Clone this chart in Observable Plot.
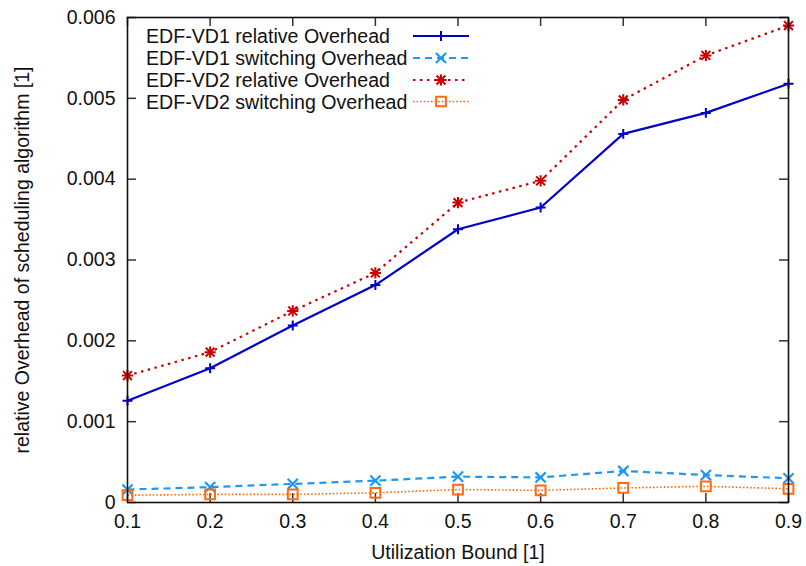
<!DOCTYPE html>
<html><head><meta charset="utf-8">
<script src="https://cdn.jsdelivr.net/npm/d3@7"></script>
<script src="https://cdn.jsdelivr.net/npm/@observablehq/plot@0.6"></script>
<style>
html,body{margin:0;padding:0;background:#fff;}
#chart{position:relative;width:806px;height:566px;}
#legend{position:absolute;left:0;top:0;pointer-events:none;}
</style></head><body><div id="chart"></div>
<script>
// ---- data ----
const utilization = [0.1, 0.2, 0.3, 0.4, 0.5, 0.6, 0.7, 0.8, 0.9];
const vd1Relative  = [0.00126, 0.00166, 0.00219, 0.00269, 0.00338, 0.00365, 0.00456, 0.00482, 0.00518];
const vd1Switching = [0.00016, 0.00019, 0.00023, 0.00027, 0.00032, 0.00031, 0.00039, 0.00034, 0.00030];
const vd2Relative  = [0.00157, 0.00186, 0.00237, 0.00284, 0.00371, 0.00398, 0.00498, 0.00553, 0.00590];
const vd2Switching = [0.00009, 0.00010, 0.00010, 0.00012, 0.00016, 0.00015, 0.00018, 0.00020, 0.00017];
const seriesNames = ["EDF-VD1 relative Overhead", "EDF-VD1 switching Overhead", "EDF-VD2 relative Overhead", "EDF-VD2 switching Overhead"];
const xTicks = [0.1, 0.2, 0.3, 0.4, 0.5, 0.6, 0.7, 0.8, 0.9];
const yTicks = [0, 0.001, 0.002, 0.003, 0.004, 0.005, 0.006];
const xLabel = "Utilization Bound [1]";
const yLabel = "relative Overhead of scheduling algorithm [1]";

// ---- styles ----
const FONT = "'Liberation Sans', Arial, Helvetica, sans-serif";
const styles = [
  {color: "#0000cc", dash: null, width: 2.2, symbols: [["plus", 3.3]], sw: 2},
  {color: "#1e98f5", dash: "7,5", width: 2.2, symbols: [["times", 4.7]], sw: 2.2},
  {color: "#cc0000", dash: "2.5,4.5", width: 2.2, symbols: [["plus", 3.7], ["times", 4.1]], sw: 2},
  {color: "#ff6a10", dash: "1.6,2", width: 1.6, symbols: [["square", 5.5]], sw: 2}
];
const values = [vd1Relative, vd1Switching, vd2Relative, vd2Switching];
const series = seriesNames.map((name, k) => ({
  name, style: styles[k],
  rows: utilization.map((u, i) => ({x: u, y: values[k][i]}))
}));

const W = 806, H = 566, mL = 127, mR = 18, mT = 17, mB = 64;
const pw = W - mL - mR, ph = H - mT - mB;
const TICK = 9;
const tickColor = "#333";

const marks = [
  Plot.axisX(xTicks, {tickSize: 0, tickPadding: 12, tickFormat: d => d.toFixed(1),
    label: xLabel, labelAnchor: "center", labelOffset: 56, labelArrow: "none"}),
  Plot.axisY(yTicks, {tickSize: 0, tickPadding: 12, tickFormat: d => d === 0 ? "0" : d.toFixed(3),
    label: yLabel, labelAnchor: "center", labelOffset: 112, labelArrow: "none"}),
  Plot.ruleY(yTicks, {y: d => d, insetRight: pw - TICK, stroke: tickColor, strokeWidth: 1.5}),
  Plot.ruleY(yTicks, {y: d => d, insetLeft: pw - TICK, stroke: tickColor, strokeWidth: 1.5}),
  Plot.ruleX(xTicks, {x: d => d, insetTop: ph - TICK, stroke: tickColor, strokeWidth: 1.5}),
  Plot.ruleX(xTicks, {x: d => d, insetBottom: ph - TICK, stroke: tickColor, strokeWidth: 1.5})
];
for (const s of series) {
  const st = s.style;
  marks.push(Plot.line(s.rows, {x: "x", y: "y", stroke: st.color, strokeWidth: st.width,
    strokeDasharray: st.dash, strokeLinecap: "butt", strokeLinejoin: "round"}));
}
for (const s of series) {
  const st = s.style;
  for (const [sym, r] of st.symbols) {
    marks.push(Plot.dot(s.rows, {x: "x", y: "y", symbol: sym, r, stroke: st.color,
      strokeWidth: st.sw, fill: "none"}));
  }
}
marks.push(Plot.frame({stroke: "#111", strokeWidth: 1.6}));

const plot = Plot.plot({
  width: W, height: H, marginLeft: mL, marginRight: mR, marginTop: mT, marginBottom: mB,
  style: {fontFamily: FONT, fontSize: "19.5px", color: "#111", background: "#fff", overflow: "visible"},
  x: {domain: [0.1, 0.9]},
  y: {domain: [0, 0.006]},
  marks
});
const chart = document.getElementById("chart");
chart.appendChild(plot);

// ---- legend (top-left inside the frame) ----
const lg = d3.select(chart).append("svg").attr("id", "legend")
  .attr("width", W).attr("height", 130)
  .style("font-family", FONT).style("font-size", "19.6px");
const rowY = [36, 58, 80, 101.5];
const textLeft = 146, lineX1 = 413, lineX2 = 469, markX = 441;
const d3Sym = {plus: d3.symbolPlus, times: d3.symbolTimes, asterisk: d3.symbolAsterisk, square: d3.symbolSquare};
series.forEach((s, k) => {
  const st = s.style, y = rowY[k];
  lg.append("text").attr("x", textLeft).attr("y", y).attr("text-anchor", "start")
    .attr("dominant-baseline", "central").attr("fill", "#111").text(s.name);
  lg.append("line").attr("x1", lineX1).attr("x2", lineX2).attr("y1", y).attr("y2", y)
    .attr("stroke", st.color).attr("stroke-width", st.width)
    .attr("stroke-dasharray", st.dash);
  for (const [sym, r] of st.symbols) {
    lg.append("path").attr("transform", `translate(${markX},${y})`)
      .attr("d", d3.symbol(d3Sym[sym], Math.PI * r * r)())
      .attr("fill", "none").attr("stroke", st.color).attr("stroke-width", st.sw);
  }
});
</script>
</body></html>
